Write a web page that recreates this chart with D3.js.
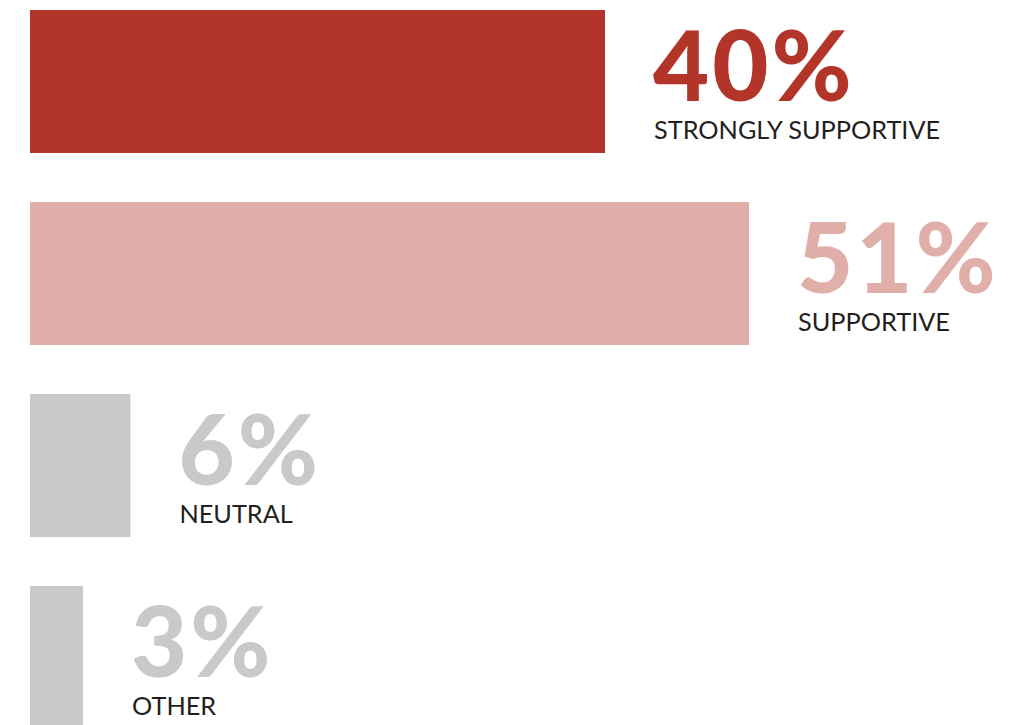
<!DOCTYPE html>
<html><head><meta charset="utf-8">
<script src="https://cdn.jsdelivr.net/npm/d3@7"></script>
<style>html,body{margin:0;padding:0;background:#fff;overflow:hidden}</style>
</head><body>
<svg id="chart" width="1026" height="725"></svg>
<script>
const categories = ["STRONGLY SUPPORTIVE", "SUPPORTIVE", "NEUTRAL", "OTHER"];
const values = [40, 51, 6, 3];
const valueLabels = ["40%", "51%", "6%", "3%"];
const colors = ["#B33428", "#E0AFAA", "#C8C9CB", "#C8C9CB"];

const svg = d3.select("#chart");
const marginLeft = 30, marginTop = 10;
const x = d3.scalePow().exponent(0.92).domain([0, 51]).range([0, 719]);
const y = d3.scaleBand().domain(categories).range([marginTop, marginTop + 192 * 4 - 49]).paddingInner(49/192).paddingOuter(0);

const data = categories.map((c, i) => ({c, v: values[i], label: valueLabels[i], color: colors[i]}));
const g = svg.append("g");
const rows = g.selectAll("g.row").data(data).join("g").attr("class", "row");

rows.append("rect")
  .attr("x", marginLeft)
  .attr("y", d => y(d.c))
  .attr("width", d => x(d.v))
  .attr("height", y.bandwidth())
  .attr("fill", d => d.color);

rows.append("text")
  .attr("x", d => marginLeft + x(d.v) + 48)
  .attr("y", d => y(d.c) + 91)
  .attr("fill", d => d.color)
  .style("font-family", "Lato, 'Open Sans', sans-serif")
  .style("font-weight", 900)
  .style("font-size", "97px")
  .style("letter-spacing", "3px")
  .text(d => d.label);

rows.append("text")
  .attr("x", d => marginLeft + x(d.v) + 49)
  .attr("y", d => y(d.c) + 129)
  .attr("fill", "#231F20")
  .style("font-family", "Lato, 'Open Sans', sans-serif")
  .style("font-weight", 400)
  .style("font-size", "25.3px")
  .text(d => d.c);
</script>
</body></html>
